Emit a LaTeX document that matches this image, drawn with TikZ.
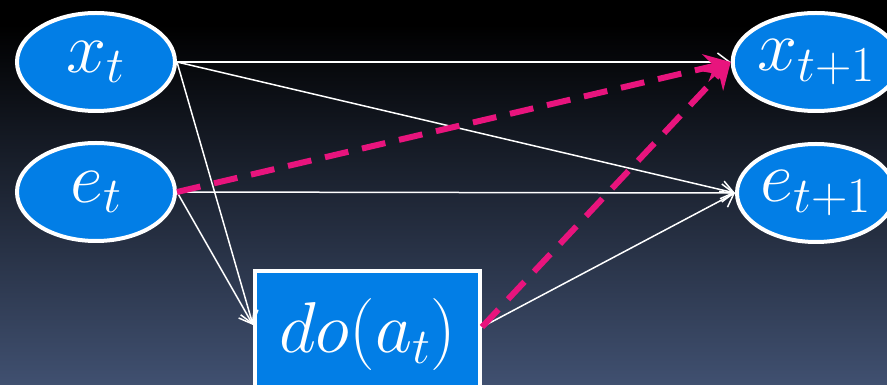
\RequirePackage{fix-cm}
\documentclass[tikz,border=0pt]{standalone}
\usetikzlibrary{shapes.geometric,arrows.meta}
\definecolor{nodeblue}{RGB}{2,126,230}
\definecolor{pinkarrow}{RGB}{232,20,125}
\definecolor{bgbottom}{RGB}{64,80,112}
\tikzset{
  ellnode/.style={ellipse,draw=white,line width=4pt,fill=nodeblue,text=white,
    minimum width=158pt,minimum height=98pt,inner sep=0pt,
    font=\fontsize{72}{72}\selectfont},
  boxnode/.style={rectangle,draw=white,line width=4pt,fill=nodeblue,text=white,
    minimum width=225pt,minimum height=127pt,inner sep=0pt,
    font=\fontsize{72}{72}\selectfont},
  wline/.style={draw=white,line width=1.5pt,-{Straight Barb[length=12pt,width=18pt,line width=1.5pt]}},
  pline/.style={draw=pinkarrow,line width=6pt,dash pattern=on 24pt off 14pt,
    -{Stealth[length=26pt,width=28pt,inset=9pt]}}
}
\begin{document}
\begin{tikzpicture}[x=1pt,y=1pt]
\useasboundingbox (0,0) rectangle (887,385);
\fill[black] (0,360) rectangle (887,385);
\shade[top color=black,bottom color=bgbottom] (0,0) rectangle (887,360.5);
\node[ellnode] (xt) at (96,323) {$x_t$};
\node[ellnode] (et) at (96,193) {$e_t$};
\node[ellnode] (xt1) at (816,323) {$x_{t+1}$};
\node[ellnode] (et1) at (816,192) {$e_{t+1}$};
\node[boxnode] (do) at (367.5,50.5) {$do(a_t)$};
\coordinate (doin) at ([yshift=9.5pt]do.west);
\coordinate (doout) at ([yshift=7.5pt]do.east);
\draw[wline] (xt.east) -- (xt1.west);
\draw[wline] (xt.east) -- (et1.west);
\draw[wline] (xt.east) -- (doin);
\draw[wline] (et.east) -- (et1.west);
\draw[wline] (et.east) -- (doin);
\draw[wline] (doout) -- (et1.west);
\draw[pline] (et.east) -- (xt1.west);
\draw[pline] (doout) -- (xt1.west);
\end{tikzpicture}
\end{document}
